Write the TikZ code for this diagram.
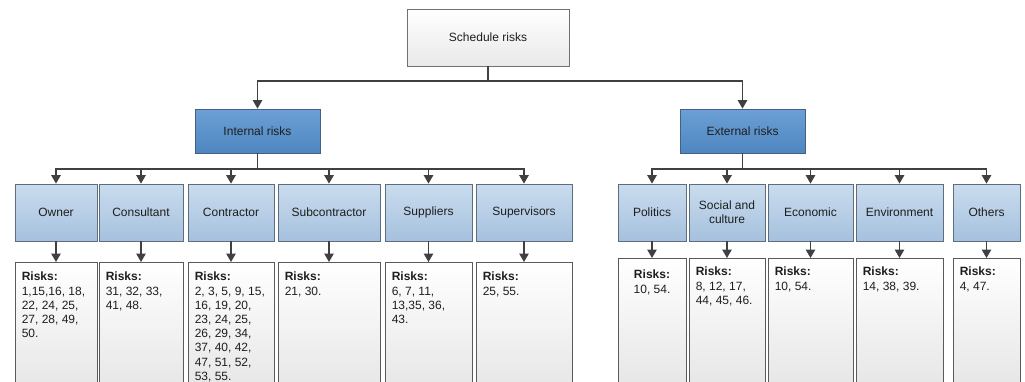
\documentclass[tikz,border=0pt]{standalone}
\usepackage{fontspec}
\setmainfont{Liberation Sans}
\usetikzlibrary{arrows.meta,shadows}
\definecolor{linec}{HTML}{404040}
\definecolor{textc}{HTML}{1E1E1E}
\definecolor{topborder}{HTML}{707070}
\definecolor{topbot}{HTML}{E9E9E9}
\definecolor{mainborder}{HTML}{44617F}
\definecolor{maintop}{HTML}{6CA0D6}
\definecolor{mainbot}{HTML}{4E86C0}
\definecolor{subborder}{HTML}{5F6E7D}
\definecolor{subtop}{HTML}{CADCEE}
\definecolor{subbot}{HTML}{A5C1DE}
\definecolor{riskborder}{HTML}{5A5A5A}
\definecolor{riskbot}{HTML}{E2E2E2}
\tikzset{
  shadowed/.style={drop shadow={shadow xshift=1.3pt, shadow yshift=-1.3pt, opacity=0.3, fill=black}},
  txt/.style={font=\fontsize{12}{14.2}\selectfont, text=textc},
  topbox/.style={shadowed, txt, draw=topborder, line width=0.8pt, top color=white, bottom color=topbot,
    minimum width=162pt, minimum height=57pt, inner sep=0pt},
  mainbox/.style={shadowed, txt, draw=mainborder, line width=0.8pt, top color=maintop, bottom color=mainbot,
    minimum width=125pt, minimum height=44pt, inner sep=0pt},
  subbox/.style={shadowed, txt, draw=subborder, line width=0.8pt, top color=subtop, bottom color=subbot,
    minimum height=57pt, inner sep=0pt, align=center},
  riskbox/.style={shadowed, draw=riskborder, line width=0.8pt, top color=white, bottom color=riskbot,
    minimum height=150pt, inner sep=0pt, anchor=north},
  risktext/.style={txt, inner sep=0pt, anchor=north west, align=left},
  conn/.style={draw=linec, line width=1.2pt},
  arr/.style={conn, -{Triangle[length=8.5pt,width=9.5pt]}},
}
\newcommand{\rk}{\textbf{Risks:}}
\begin{document}
\begin{tikzpicture}[x=1pt,y=-1pt]
\useasboundingbox (0,0) rectangle (1025,381);
\clip (0,0) rectangle (1025,381);
\fill[white] (0,0) rectangle (1025,381);

% top level
\node[topbox] (sched) at (488,37.5) {Schedule risks};
\node[mainbox] (internal) at (257.5,131) {Internal risks};
\node[mainbox] (external) at (742.5,131) {External risks};

% second level
\node[subbox, minimum width=82pt] (owner) at (56,212.5) {Owner};
\node[subbox, minimum width=84pt] (consult) at (141,212.5) {Consultant};
\node[subbox, minimum width=86pt] (contract) at (231,212.5) {Contractor};
\node[subbox, minimum width=102pt] (subcon) at (329,212.5) {Subcontractor};
\node[subbox, minimum width=87pt] (suppl) at (428.5,212.5) {Suppliers};
\node[subbox, minimum width=96pt] (superv) at (524,212.5) {Supervisors};
\node[subbox, minimum width=68pt] (polit) at (652,212.5) {Politics};
\node[subbox, minimum width=76pt] (social) at (727,212.5) {Social and\\culture};
\node[subbox, minimum width=85pt] (econ) at (810.5,212.5) {Economic};
\node[subbox, minimum width=87pt] (envir) at (899.5,212.5) {Environment};
\node[subbox, minimum width=67pt] (others) at (986.5,212.5) {Others};

% risk boxes
\node[riskbox, minimum width=82pt] (rowner) at (56,262) {};
\node[riskbox, minimum width=84pt] (rconsult) at (141,262) {};
\node[riskbox, minimum width=86pt] (rcontract) at (231,262) {};
\node[riskbox, minimum width=102pt] (rsubcon) at (329,262) {};
\node[riskbox, minimum width=87pt] (rsuppl) at (428.5,262) {};
\node[riskbox, minimum width=96pt] (rsuperv) at (524,262) {};
\node[riskbox, minimum width=68pt] (rpolit) at (652,258) {};
\node[riskbox, minimum width=76pt] (rsocial) at (727,258) {};
\node[riskbox, minimum width=85pt] (recon) at (810.5,258) {};
\node[riskbox, minimum width=87pt] (renvir) at (899.5,258) {};
\node[riskbox, minimum width=67pt] (rothers) at (986.5,258) {};

% risk texts
\node[risktext] (towner) at ([shift={(7,10)}]rowner.north west) {\rk\\1,15,16, 18,\\22, 24, 25,\\27, 28, 49,\\50.};
\node[risktext] (tconsult) at ([shift={(7,10)}]rconsult.north west) {\rk\\31, 32, 33,\\41, 48.};
\node[risktext] (tcontract) at ([shift={(7,10)}]rcontract.north west) {\rk\\2, 3, 5, 9, 15,\\16, 19, 20,\\23, 24, 25,\\26, 29, 34,\\37, 40, 42,\\47, 51, 52,\\53, 55.};
\node[risktext] (tsubcon) at ([shift={(7,10)}]rsubcon.north west) {\rk\\21, 30.};
\node[risktext] (tsuppl) at ([shift={(7,10)}]rsuppl.north west) {\rk\\6, 7, 11,\\13,35, 36,\\43.};
\node[risktext] (tsuperv) at ([shift={(7,10)}]rsuperv.north west) {\rk\\25, 55.};
\node[risktext, anchor=north, align=center] (tpolit) at ([shift={(0,12)}]rpolit.north) {\rk\\10, 54.};
\node[risktext] (tsocial) at ([shift={(7,9)}]rsocial.north west) {\rk\\8, 12, 17,\\44, 45, 46.};
\node[risktext] (tecon) at ([shift={(7,9)}]recon.north west) {\rk\\10, 54.};
\node[risktext] (tenvir) at ([shift={(7,9)}]renvir.north west) {\rk\\14, 38, 39.};
\node[risktext] (tothers) at ([shift={(7,9)}]rothers.north west) {\rk\\4, 47.};

% connectors
\coordinate (j0) at (488,81);
\coordinate (j1) at (257.5,169);
\coordinate (j2) at (742.5,169);
\draw[conn] (sched.south) -- (j0);
\draw[arr] (j0) -| (internal.north);
\draw[arr] (j0) -| (external.north);
\draw[conn] (internal.south) -- (j1);
\draw[conn] (external.south) -- (j2);
\foreach \n in {owner,consult,contract,subcon,suppl,superv}{
  \draw[arr] (j1) -| (\n.north);
  \draw[arr] (\n.south) -- (r\n.north);
}
\foreach \n in {polit,social,econ,envir,others}{
  \draw[arr] (j2) -| (\n.north);
  \draw[arr] (\n.south) -- (r\n.north);
}
\end{tikzpicture}
\end{document}
